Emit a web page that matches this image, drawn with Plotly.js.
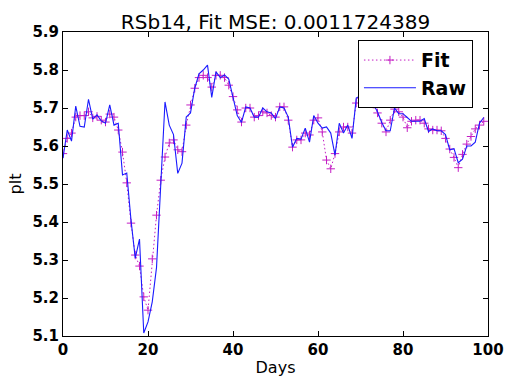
<!DOCTYPE html>
<html>
<head>
<meta charset="utf-8">
<script src="https://cdn.plot.ly/plotly-3.0.1.min.js"></script>
<style>
  html, body { margin: 0; padding: 0; background: #ffffff; }
  #chart { width: 507px; height: 377px; }
</style>
</head>
<body>
<div id="chart"></div>
<script>
// Daily plt readings and the fitted curve, days 0..99
const days = Array.from({length: 100}, (_, i) => i);

const rawValues = [
  5.568, 5.642, 5.613, 5.705, 5.652, 5.650, 5.723, 5.671, 5.682, 5.666,
  5.660, 5.708, 5.655, 5.660, 5.524, 5.529, 5.405, 5.305, 5.355, 5.108,
  5.137, 5.190, 5.280, 5.516, 5.716, 5.655, 5.630, 5.528, 5.555, 5.676,
  5.687, 5.752, 5.790, 5.800, 5.813, 5.728, 5.795, 5.780, 5.787, 5.776,
  5.726, 5.680, 5.662, 5.703, 5.700, 5.676, 5.676, 5.700, 5.690, 5.687,
  5.672, 5.703, 5.700, 5.676, 5.597, 5.620, 5.618, 5.647, 5.610, 5.680,
  5.660, 5.647, 5.650, 5.634, 5.576, 5.660, 5.634, 5.655, 5.620, 5.726,
  5.732, 5.740, 5.730, 5.710, 5.690, 5.662, 5.640, 5.640, 5.700, 5.685,
  5.685, 5.675, 5.665, 5.665, 5.665, 5.672, 5.638, 5.645, 5.640, 5.640,
  5.630, 5.590, 5.593, 5.556, 5.565, 5.600, 5.600, 5.610, 5.660, 5.675
];

const fitValues = [
  5.580, 5.620, 5.634, 5.676, 5.680, 5.680, 5.690, 5.674, 5.678, 5.668,
  5.663, 5.684, 5.676, 5.642, 5.584, 5.503, 5.397, 5.313, 5.284, 5.203,
  5.168, 5.303, 5.418, 5.510, 5.571, 5.608, 5.616, 5.590, 5.585, 5.655,
  5.708, 5.752, 5.780, 5.786, 5.780, 5.755, 5.786, 5.786, 5.780, 5.760,
  5.730, 5.695, 5.663, 5.700, 5.700, 5.676, 5.680, 5.690, 5.687, 5.680,
  5.676, 5.703, 5.703, 5.668, 5.597, 5.616, 5.616, 5.634, 5.629, 5.668,
  5.674, 5.637, 5.563, 5.540, 5.580, 5.637, 5.650, 5.650, 5.634, 5.713,
  5.726, 5.740, 5.730, 5.710, 5.687, 5.660, 5.637, 5.668, 5.697, 5.690,
  5.676, 5.648, 5.665, 5.668, 5.668, 5.660, 5.645, 5.642, 5.642, 5.640,
  5.620, 5.592, 5.570, 5.543, 5.578, 5.605, 5.625, 5.645, 5.655, 5.665
];

const xTicks = [0, 20, 40, 60, 80, 100];
const yTicks = [5.1, 5.2, 5.3, 5.4, 5.5, 5.6, 5.7, 5.8, 5.9];

const titleText = 'RSb14, Fit MSE: 0.0011724389';

const traces = [
  {
    x: days, y: fitValues, name: 'Fit', type: 'scatter', mode: 'lines+markers',
    line: {color: '#c41ec4', width: 1, dash: '1.5px,2.5px'},
    marker: {symbol: 'cross-thin-open', size: 6, line: {color: '#d030d0', width: 1}}
  },
  {
    x: days, y: rawValues, name: 'Raw', type: 'scatter', mode: 'lines',
    line: {color: '#1a1aff', width: 1.1}
  }
];

const axisCommon = {
  showgrid: false, zeroline: false,
  showline: true, linecolor: '#000000', linewidth: 1, mirror: 'ticks',
  ticks: 'inside', ticklen: 5, tickwidth: 1, tickcolor: '#000000',
  tickfont: {family: 'DejaVu Sans', size: 15, color: '#000000', weight: 'bold'}
};

const layout = {
  width: 507, height: 377,
  margin: {l: 63, r: 19, t: 32, b: 41},
  paper_bgcolor: '#ffffff', plot_bgcolor: '#ffffff',
  font: {family: 'DejaVu Sans', color: '#000000'},
  title: {
    text: titleText, font: {family: 'DejaVu Sans', size: 20, color: '#000000'},
    x: 0.5, xref: 'paper', xanchor: 'center',
    y: 1, yref: 'paper', yanchor: 'bottom', pad: {b: 3}
  },
  xaxis: Object.assign({}, axisCommon, {
    range: [0, 100], tickvals: xTicks, ticktext: xTicks.map(String),
    title: {text: 'Days', font: {family: 'DejaVu Sans', size: 16}, standoff: 4}
  }),
  yaxis: Object.assign({}, axisCommon, {
    range: [5.1, 5.9], tickvals: yTicks, ticktext: yTicks.map(v => v.toFixed(1)),
    title: {text: 'plt', font: {family: 'DejaVu Sans', size: 16}, standoff: 6}
  }),
  showlegend: true,
  legend: {
    x: 0.694, y: 0.973, xanchor: 'left', yanchor: 'top',
    bgcolor: '#ffffff', bordercolor: '#000000', borderwidth: 1,
    font: {family: 'DejaVu Sans', size: 19, color: '#000000', weight: 'bold'},
    itemwidth: 52, tracegroupgap: 0
  }
};

Plotly.newPlot('chart', traces, layout, {staticPlot: true, displayModeBar: false});
</script>
</body>
</html>
